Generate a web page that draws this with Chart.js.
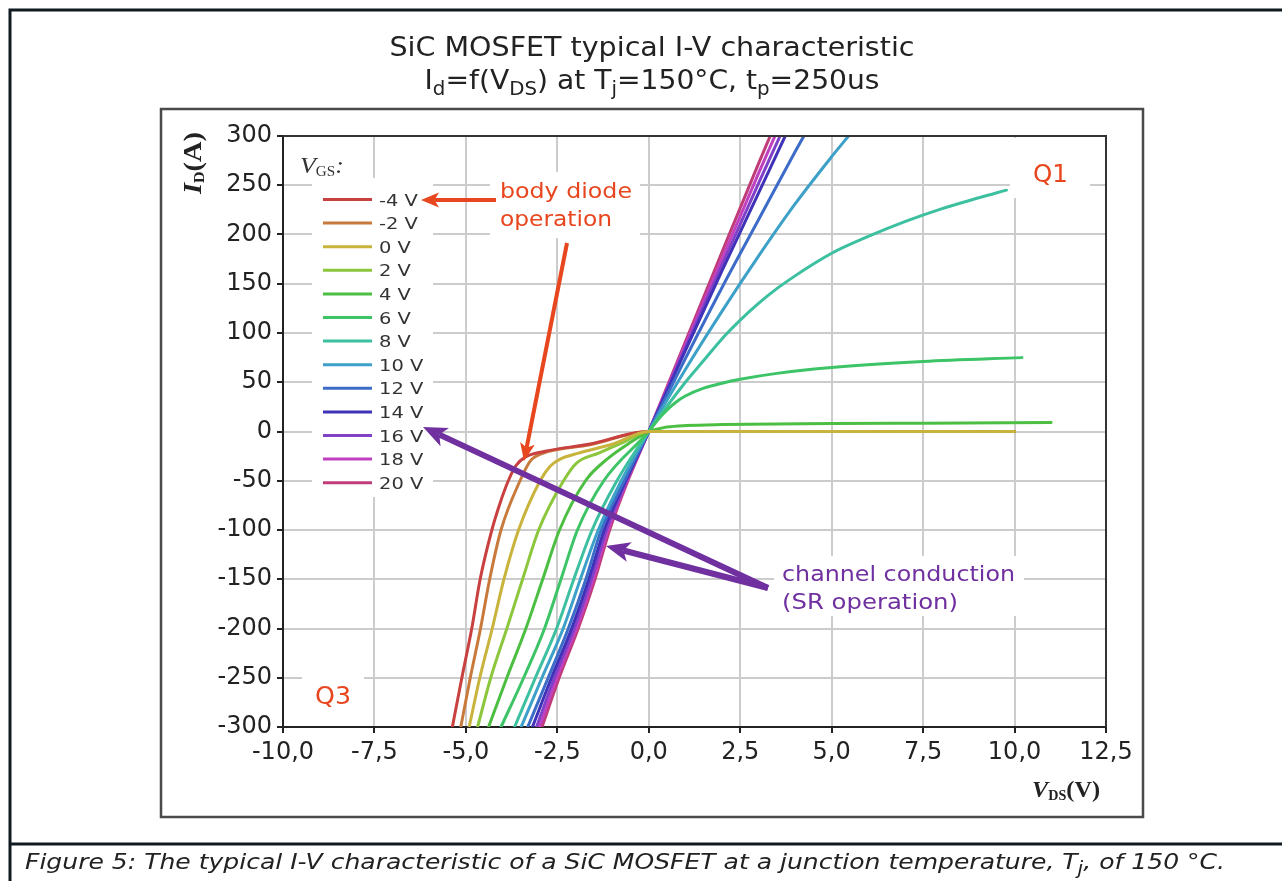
<!DOCTYPE html>
<html><head><meta charset="utf-8">
<script src="https://cdn.jsdelivr.net/npm/chart.js@4.4.1/dist/chart.umd.min.js"></script>
<style>html,body{margin:0;padding:0;background:#fff}canvas{display:block}</style>
</head><body>
<canvas id="c" width="1282" height="881"></canvas>
<script>
// ---- data ----
const vgsLabels = ['-4 V','-2 V','0 V','2 V','4 V','6 V','8 V','10 V','12 V','14 V','16 V','18 V','20 V'];
const lineColors = ['#c8403f','#c87a3c','#c8b43c','#8cc63c','#4cbf42','#3cc466','#3cc0a0','#3ca0c8','#3c6cc8','#4032b8','#8040c8','#c040c0','#c03c78'];

const vds_m4 = [-5.37,-5.11,-4.84,-4.61,-4.29,-4.06,-3.84,-3.64,-3.38,-2.83,-1.64,0,10];
const id_m4  = [-300,-250,-200,-150,-100,-72,-50,-35,-26,-20,-13,0,0];
const vds_m2 = [-5.14,-4.88,-4.60,-4.35,-4.04,-3.52,-3.24,-2.92,-1.6,0,10];
const id_m2  = [-300,-250,-200,-150,-100,-50,-30,-22.5,-13.5,0,0];
const vds_0  = [-4.91,-4.62,-4.28,-3.96,-3.56,-2.97,-2.69,-2.42,-1.92,-1.0,0,10];
const id_0   = [-300,-250,-200,-150,-100,-50,-35,-28,-22,-13,0,0];
const vds_2  = [-4.68,-4.32,-3.88,-3.45,-3.01,-2.33,-1.96,-1.37,-0.7,0,10];
const id_2   = [-300,-250,-200,-150,-100,-50,-31.5,-22,-11,0,0];
const vds_4  = [-4.38,-3.88,-3.36,-2.9,-2.44,-1.73,-1.14,-0.5,0,0.25,0.5,1,2,5,7.5,11];
const id_4   = [-300,-250,-200,-150,-100,-50,-28,-11,0,2.5,4.5,6,7,8,8.5,9.2];
const vds_6  = [-4.04,-3.42,-2.85,-2.40,-1.95,-1.23,0,0.25,0.5,0.75,1,1.5,2,2.5,3.5,5,7.5,10.2];
const id_6   = [-300,-250,-200,-150,-100,-50,0,12,22,30,36,44,49,53,59,65,71,75];
const vds_8  = [-3.67,-3.10,-2.52,-2.05,-1.55,-0.87,0,1,1.5,2,2.5,3,3.5,4,4.5,5,6,7,8,9,9.78];
const id_8   = [-300,-250,-200,-150,-100,-50,0,50,72,94,113,130,145,158,170,181,198,213,226,237,245];
const vds_10 = [-3.49,-2.92,-2.34,-1.87,-1.38,-0.75,0,1,2,3,4,5,5.46];
const id_10  = [-300,-250,-200,-150,-100,-50,0,63,122,178,231,279,300];
const vds_12 = [-3.31,-2.75,-2.20,-1.72,-1.30,-0.67,0,1,2,3,4,4.24];
const id_12  = [-300,-250,-200,-150,-100,-50,0,74,146,215,284,300];
const vds_14 = [-3.18,-2.66,-2.11,-1.64,-1.22,-0.63,0,1,2,3,3.73];
const id_14  = [-300,-250,-200,-150,-100,-50,0,82,163,242,300];
const vds_16 = [-3.07,-2.58,-2.04,-1.57,-1.16,-0.61,0,1,2,3,3.59];
const id_16  = [-300,-250,-200,-150,-100,-50,0,85,169,252,300];
const vds_18 = [-2.99,-2.51,-1.98,-1.52,-1.11,-0.59,0,1,2,3,3.45];
const id_18  = [-300,-250,-200,-150,-100,-50,0,88,175,262,300];
const vds_20 = [-2.92,-2.45,-1.93,-1.47,-1.07,-0.57,0,1,2,3,3.32];
const id_20  = [-300,-250,-200,-150,-100,-50,0,91,182,272,300];

const seriesV = [vds_m4,vds_m2,vds_0,vds_2,vds_4,vds_6,vds_8,vds_10,vds_12,vds_14,vds_16,vds_18,vds_20];
const seriesI = [id_m4,id_m2,id_0,id_2,id_4,id_6,id_8,id_10,id_12,id_14,id_16,id_18,id_20];

const xMin = -10, xMax = 12.5, xStep = 2.5;
const yMin = -300, yMax = 300, yStep = 50;

// ---- build datasets ----
const datasets = vgsLabels.map((lab, k) => ({
  label: lab,
  data: seriesV[k].map((v, j) => ({x: v, y: seriesI[k][j]})),
  borderColor: lineColors[k],
  backgroundColor: lineColors[k],
  borderWidth: 3,
  pointRadius: 0,
  showLine: true,
  fill: false,
  cubicInterpolationMode: 'monotone',
  order: lab === '0 V' ? -1 : 0
}));

const SANS = '"DejaVu Sans", Verdana, sans-serif';
const SERIF = '"Liberation Serif", "DejaVu Serif", serif';

function arrow(ctx, x1, y1, x2, y2, color, w, hl, hw) {
  const a = Math.atan2(y2 - y1, x2 - x1);
  const c = Math.cos(a), s = Math.sin(a);
  const bx = x2 - hl * c, by = y2 - hl * s;
  const nx = x2 - hl * 0.75 * c, ny = y2 - hl * 0.75 * s;
  ctx.save();
  ctx.strokeStyle = color; ctx.lineWidth = w; ctx.lineCap = 'butt';
  ctx.beginPath(); ctx.moveTo(x1, y1); ctx.lineTo(nx, ny); ctx.stroke();
  ctx.fillStyle = color;
  ctx.beginPath();
  ctx.moveTo(x2, y2);
  ctx.lineTo(bx + hw / 2 * s, by - hw / 2 * c);
  ctx.lineTo(nx, ny);
  ctx.lineTo(bx - hw / 2 * s, by + hw / 2 * c);
  ctx.closePath(); ctx.fill();
  ctx.restore();
}

// draws text parts (with subscripts); align: 'center' or 'left'; targetW / sx stretch horizontally
function drawParts(ctx, parts, x, y, o) {
  const size = o.size, subSize = o.subSize || Math.round(o.size * 0.7), subDy = o.subDy || 5;
  const family = o.family || SANS, style = o.style || '';
  const fontOf = p => (p.w || style) + ' ' + (p.sub ? subSize : size) + 'px ' + (p.f || family);
  ctx.save();
  ctx.fillStyle = o.color || '#222'; ctx.textBaseline = 'alphabetic'; ctx.textAlign = 'left';
  let total = 0;
  parts.forEach(p => { ctx.font = fontOf(p); total += ctx.measureText(p.t).width; });
  const sx = o.targetW ? o.targetW / total : (o.sx || 1);
  const w = total * sx;
  const x0 = o.align === 'left' ? x : x - w / 2;
  ctx.translate(x0, y); ctx.scale(sx, 1);
  let cx = 0;
  parts.forEach(p => {
    ctx.font = fontOf(p);
    ctx.fillText(p.t, cx, p.sub ? subDy : 0);
    cx += ctx.measureText(p.t).width;
  });
  ctx.restore();
}

const decorPlugin = {
  id: 'decor',
  beforeDraw(chart) {
    const ctx = chart.ctx;
    ctx.save(); ctx.fillStyle = '#fff'; ctx.fillRect(0, 0, chart.width, chart.height); ctx.restore();
  },
  afterDatasetsDraw(chart) {
    const ctx = chart.ctx;
    const a = chart.chartArea;
    ctx.save();
    // white boxes behind text
    ctx.fillStyle = '#fff';
    ctx.fillRect(312, 178, 121, 319);   // legend
    ctx.fillRect(490, 172, 150, 66);    // body diode
    ctx.fillRect(774, 556, 250, 60);    // channel conduction
    ctx.fillRect(1010, 138, 80, 60);    // Q1
    ctx.fillRect(302, 674, 62, 44);     // Q3
    // plot border (top/right)
    ctx.strokeStyle = '#333'; ctx.lineWidth = 2;
    ctx.beginPath(); ctx.moveTo(a.left, a.top); ctx.lineTo(a.right, a.top); ctx.lineTo(a.right, a.bottom); ctx.stroke();

    // legend header
    drawParts(ctx, [
      {t: 'V', w: 'italic'}, {t: 'GS', sub: true}, {t: ':', w: 'italic'}
    ], 300, 173, {size: 24, subSize: 14, subDy: 3, family: SERIF, color: '#333', align: 'left', sx: 1.08});

    // legend entries from datasets
    chart.data.datasets.forEach((ds, i) => {
      const yy = 199.5 + i * 23.6;
      ctx.strokeStyle = ds.borderColor; ctx.lineWidth = 3;
      ctx.beginPath(); ctx.moveTo(323, yy); ctx.lineTo(372, yy); ctx.stroke();
      drawParts(ctx, [{t: ds.label}], 379, yy + 6, {size: 16.5, color: '#333', align: 'left', sx: 1.18});
    });

    // annotations text
    const orange = '#e8461e', purple = '#7030a0';
    drawParts(ctx, [{t: 'body diode'}], 500, 198, {size: 22, color: orange, align: 'left', targetW: 132});
    drawParts(ctx, [{t: 'operation'}], 500, 226, {size: 22, color: orange, align: 'left', targetW: 112});
    drawParts(ctx, [{t: 'Q1'}], 1033, 182, {size: 25, color: orange, align: 'left', targetW: 35});
    drawParts(ctx, [{t: 'Q3'}], 315, 704, {size: 25, color: orange, align: 'left', targetW: 36});
    drawParts(ctx, [{t: 'channel conduction'}], 782, 581, {size: 22, color: purple, align: 'left', targetW: 233});
    drawParts(ctx, [{t: '(SR operation)'}], 782, 609, {size: 22, color: purple, align: 'left', targetW: 176});

    // arrows
    arrow(ctx, 496, 200, 421, 200, orange, 4, 18, 15);
    arrow(ctx, 567, 243, 524, 461, orange, 4, 18, 15);
    arrow(ctx, 768, 588, 423, 427, purple, 6, 24, 20);
    arrow(ctx, 768, 588, 606, 546, purple, 6, 24, 20);
    ctx.restore();
  },
  afterDraw(chart) {
    const ctx = chart.ctx;
    ctx.save();
    // outer frame
    ctx.strokeStyle = '#111a20'; ctx.lineWidth = 3;
    ctx.beginPath(); ctx.moveTo(10, 881); ctx.lineTo(10, 10); ctx.lineTo(1282, 10); ctx.stroke();
    ctx.beginPath(); ctx.moveTo(10, 844); ctx.lineTo(1282, 844); ctx.stroke();
    // inner chart frame
    ctx.strokeStyle = '#4a4a4a'; ctx.lineWidth = 2.5;
    ctx.strokeRect(161, 109, 982, 708);

    // titles
    drawParts(ctx, [{t: 'SiC MOSFET typical I-V characteristic'}], 652, 56, {size: 27, color: '#222', targetW: 525});
    drawParts(ctx, [
      {t: 'I'}, {t: 'd', sub: true}, {t: '=f(V'}, {t: 'DS', sub: true}, {t: ') at T'}, {t: 'j', sub: true},
      {t: '=150°C, t'}, {t: 'p', sub: true}, {t: '=250us'}
    ], 652, 89, {size: 27, subSize: 19, subDy: 6, color: '#222', targetW: 455});

    // axis titles
    ctx.save();
    ctx.translate(201, 163); ctx.rotate(-Math.PI / 2);
    drawParts(ctx, [
      {t: 'I', w: 'italic bold'}, {t: 'D', sub: true, w: 'bold'}, {t: '(A)', w: 'bold'}
    ], 0, 0, {size: 25, subSize: 14, subDy: 3, family: SERIF, color: '#222', targetW: 62});
    ctx.restore();
    drawParts(ctx, [
      {t: 'V', w: 'italic bold'}, {t: 'DS', sub: true, w: 'bold'}, {t: '(V)', w: 'bold'}
    ], 1066, 797, {size: 24, subSize: 14, subDy: 3, family: SERIF, color: '#222', targetW: 68});

    // caption
    drawParts(ctx, [
      {t: 'Figure 5: The typical I-V characteristic of a SiC MOSFET at a junction temperature, T'},
      {t: 'j', sub: true}, {t: ', of 150 °C.'}
    ], 25, 869, {size: 21, subSize: 17, subDy: 5, style: 'italic', color: '#222', align: 'left', targetW: 1200});
    ctx.restore();
  }
};

const fmtX = v => Number(v).toFixed(1).replace('.', ',');

new Chart(document.getElementById('c').getContext('2d'), {
  type: 'scatter',
  data: { datasets },
  options: {
    responsive: false,
    animation: false,
    devicePixelRatio: 1,
    layout: { padding: { left: 160, top: 136, right: 176, bottom: 104 } },
    plugins: { legend: { display: false }, title: { display: false }, tooltip: { enabled: false } },
    elements: { line: { borderCapStyle: 'round', borderJoinStyle: 'round' } },
    scales: {
      x: {
        type: 'linear', min: xMin, max: xMax,
        ticks: { stepSize: xStep, callback: fmtX, color: '#222', padding: 5, maxRotation: 0,
                 font: { family: SANS, size: 24 } },
        grid: { color: '#cccccc', lineWidth: 2, tickColor: '#222', tickLength: 6, tickWidth: 2 },
        border: { color: '#222', width: 2 },
        afterFit: s => { s.height = 50; }
      },
      y: {
        type: 'linear', min: yMin, max: yMax,
        ticks: { stepSize: yStep, color: '#222', padding: 5,
                 font: { family: SANS, size: 24 } },
        grid: { color: '#cccccc', lineWidth: 2, tickColor: '#222', tickLength: 6, tickWidth: 2 },
        border: { color: '#222', width: 2 },
        afterFit: s => { s.width = 123; }
      }
    }
  },
  plugins: [decorPlugin]
});
</script>
</body></html>
